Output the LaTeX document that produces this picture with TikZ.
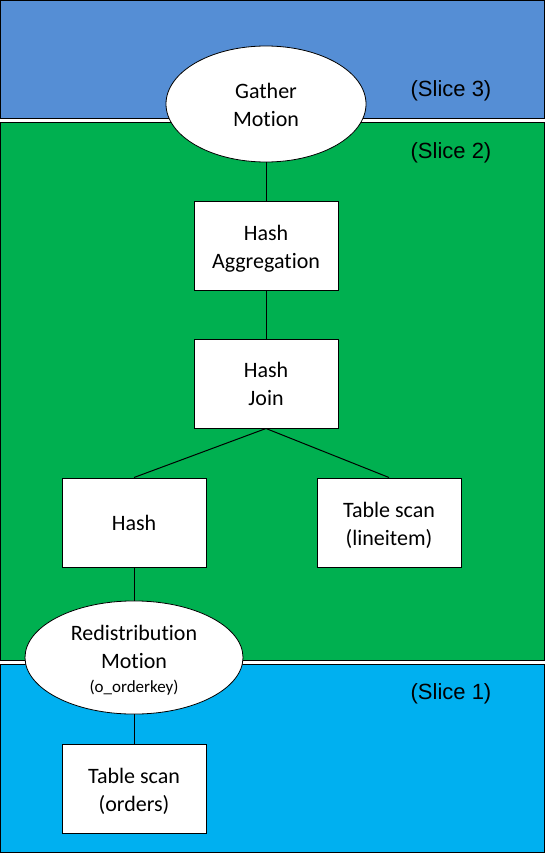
\documentclass[tikz,border=0pt]{standalone}
\usepackage{fontspec}
\setmainfont{Carlito}[Ligatures={NoCommon,NoContextual},Contextuals={NoAlternate}]
\newfontfamily\arialf{Liberation Sans}
\usetikzlibrary{shapes.geometric}
\definecolor{sliceA}{HTML}{00B0F0}
\definecolor{sliceB}{HTML}{00B050}
\definecolor{sliceC}{HTML}{558ED5}
\newcommand\ml[2][-2.5pt]{\raisebox{#1}[\height][\depth]{\begin{tabular}{@{}c@{}}#2\end{tabular}}}
\tikzset{
  slicebox/.style={draw=black, line width=1pt},
  slicelabel/.style={font=\arialf\fontsize{22}{26}\selectfont, inner sep=0pt},
  opbox/.style={draw=black, fill=white, line width=1pt, minimum width=144pt, minimum height=89pt, inner sep=0pt, font=\fontsize{22}{28}\selectfont},
  opell/.style={draw=black, fill=white, line width=0.8pt, ellipse, inner sep=0pt, font=\fontsize{22}{28}\selectfont},
  conn/.style={draw=black, line width=1pt}
}
\begin{document}
\begin{tikzpicture}[x=1pt, y=-1pt]
\useasboundingbox (0,0) rectangle (545,853);
\fill[white] (0,0) rectangle (545,853);
% slices
\draw[slicebox, fill=sliceC] (0.5,0.5) rectangle (544.5,119);
\draw[slicebox, fill=sliceB] (0.5,123) rectangle (544.5,660);
\draw[slicebox, fill=sliceA] (0.5,664) rectangle (544.5,852.5);
\node[slicelabel] (l3) at (451,91) {(Slice 3)};
\node[slicelabel] (l2) at (451,153) {(Slice 2)};
\node[slicelabel] (l1) at (451,694) {(Slice 1)};
% operators
\node[opell, minimum width=200pt, minimum height=116pt] (gather) at (266,104) {\ml{Gather\\Motion}};
\node[opbox] (agg) at (266,246) {\ml{Hash\\Aggregation}};
\node[opbox] (join) at (266,383.5) {\ml{Hash\\Join}};
\node[opbox] (hash) at (134,522.5) {\ml{Hash}};
\node[opbox] (scanl) at (389,522.5) {\ml[-3.5pt]{Table scan\\(lineitem)}};
\node[opell, minimum width=218pt, minimum height=91pt] (redis) at (134,657.5) {\ml[-3pt]{Redistribution\\Motion\\[-4pt]{\fontsize{17}{20}\selectfont (o\_orderkey)}}};
\node[opbox] (scano) at (134,788.5) {\ml[-3.5pt]{Table scan\\(orders)}};
% connectors
\draw[conn] (gather.south) -- (agg.north);
\draw[conn] (agg.south) -- (join.north);
\draw[conn] (join.south) -- (hash.north);
\draw[conn] (join.south) -- (scanl.north);
\draw[conn] (hash.south) -- (redis.north);
\draw[conn] (redis.south) -- (scano.north);
\end{tikzpicture}
\end{document}
